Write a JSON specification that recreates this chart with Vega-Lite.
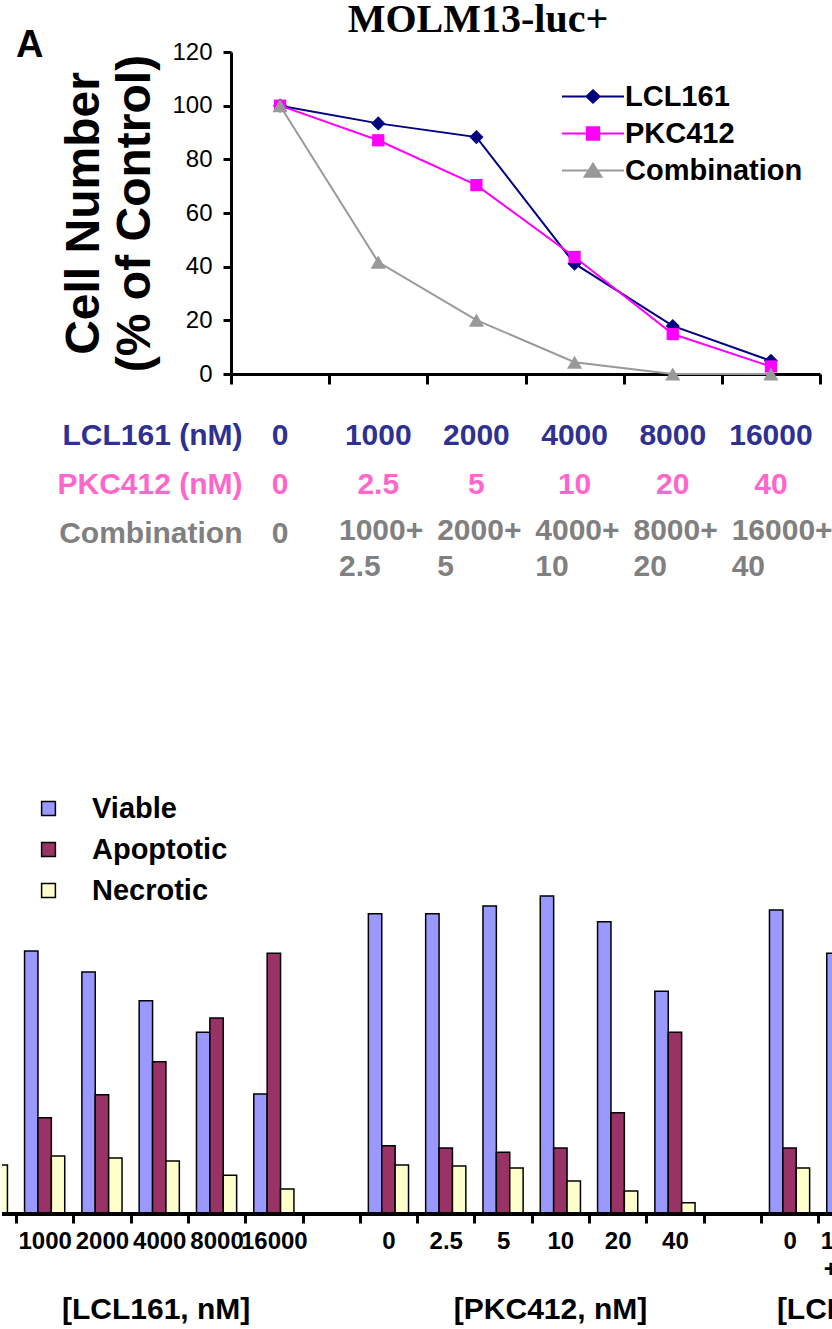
{
  "$schema": "https://vega.github.io/schema/vega-lite/v6.json",
  "padding": 0,
  "background": "white",
  "bounds": "flush",
  "spacing": 37,
  "title": {"text": "MOLM13-luc+", "font": "Liberation Serif", "fontSize": 40, "fontWeight": "bold", "anchor": "middle", "frame": "group", "dx": 60, "offset": -13, "color": "black"},
  "resolve": {
    "scale": {"color": "independent", "shape": "independent", "stroke": "independent"},
    "legend": {"color": "independent", "shape": "independent", "stroke": "independent"}
  },
  "config": {
    "view": {"stroke": null},
    "font": "Liberation Sans",
    "axis": {"domainColor": "black", "tickColor": "black", "labelColor": "black", "titleColor": "black", "grid": false, "labelFont": "Liberation Sans", "titleFont": "Liberation Sans"}
  },
  "vconcat": [
    {
      "width": 832,
      "height": 322,
      "title": {"text": "A", "anchor": "start", "frame": "group", "font": "Liberation Sans", "fontSize": 38, "fontWeight": "bold", "dx": 14, "offset": -25, "color": "black"},
      "data": {"values": [
        {"level": "0", "series": "LCL161", "value": 100},
        {"level": "1000", "series": "LCL161", "value": 93.4},
        {"level": "2000", "series": "LCL161", "value": 88.3},
        {"level": "4000", "series": "LCL161", "value": 41.1},
        {"level": "8000", "series": "LCL161", "value": 17.9},
        {"level": "16000", "series": "LCL161", "value": 4.9},
        {"level": "0", "series": "PKC412", "value": 100},
        {"level": "1000", "series": "PKC412", "value": 87.1},
        {"level": "2000", "series": "PKC412", "value": 70.4},
        {"level": "4000", "series": "PKC412", "value": 43.6},
        {"level": "8000", "series": "PKC412", "value": 14.9},
        {"level": "16000", "series": "PKC412", "value": 2.8},
        {"level": "0", "series": "Combination", "value": 100},
        {"level": "1000", "series": "Combination", "value": 41.7},
        {"level": "2000", "series": "Combination", "value": 20.1},
        {"level": "4000", "series": "Combination", "value": 4.4},
        {"level": "8000", "series": "Combination", "value": 0},
        {"level": "16000", "series": "Combination", "value": 0}
      ]},
      "encoding": {
        "x": {"field": "level", "type": "nominal", "sort": null,
          "scale": {"type": "band", "domain": ["0", "1000", "2000", "4000", "8000", "16000"], "range": [229, 818], "paddingInner": 0, "paddingOuter": 0},
          "axis": {"title": null, "labels": false, "tickBand": "extent", "tickSize": 10, "tickWidth": 3, "domainWidth": 3}},
        "y": {"field": "value", "type": "quantitative",
          "scale": {"domain": [0, 120]},
          "axis": {"values": [0, 20, 40, 60, 80, 100, 120], "offset": -229, "tickSize": 8, "tickWidth": 3, "domainWidth": 3, "labelFontSize": 24, "labelPadding": 11,
            "title": ["Cell Number", "(% of Control)"], "titleFontSize": 48, "titleFontWeight": "bold", "titleLineHeight": 51, "titlePadding": 12}}
      },
      "layer": [
        {"mark": {"type": "point", "filled": true, "size": 0, "opacity": 1, "strokeWidth": 2},
         "encoding": {
           "color": {"field": "series", "type": "nominal",
             "scale": {"domain": ["LCL161", "PKC412", "Combination"], "range": ["#000080", "#FF00FF", "#999999"]},
             "legend": {"title": null, "orient": "none", "legendX": 559, "legendY": 26, "symbolSize": 3844, "symbolStrokeWidth": 2,
               "labelFont": "Liberation Sans", "labelFontSize": 29, "labelFontWeight": "bold", "labelColor": "black", "labelOffset": 0, "labelLimit": 300, "clipHeight": 37, "rowPadding": 0, "padding": 0, "symbolOpacity": 1}},
           "stroke": {"field": "series", "type": "nominal",
             "scale": {"domain": ["LCL161", "PKC412", "Combination"], "range": ["#000080", "#FF00FF", "#999999"]},
             "legend": {"title": null, "orient": "none", "legendX": 559, "legendY": 26, "symbolSize": 3844, "symbolStrokeWidth": 2,
               "labelFont": "Liberation Sans", "labelFontSize": 29, "labelFontWeight": "bold", "labelColor": "black", "labelOffset": 0, "labelLimit": 300, "clipHeight": 37, "rowPadding": 0, "padding": 0, "symbolOpacity": 1}},
           "shape": {"field": "series", "type": "nominal",
             "scale": {"domain": ["LCL161", "PKC412", "Combination"], "range": ["M-1,0H1M0,-0.2L0.21,0L0,0.2L-0.21,0Z", "M-1,0H1M-0.2,-0.2H0.2V0.2H-0.2Z", "M-1,0H1M0,-0.22L0.27,0.2H-0.27Z"]},
             "legend": {"title": null, "orient": "none", "legendX": 559, "legendY": 26, "symbolSize": 3844, "symbolStrokeWidth": 2,
               "labelFont": "Liberation Sans", "labelFontSize": 29, "labelFontWeight": "bold", "labelColor": "black", "labelOffset": 0, "labelLimit": 300, "clipHeight": 37, "rowPadding": 0, "padding": 0, "symbolOpacity": 1}}
         }},
        {"mark": {"type": "line", "strokeWidth": 2},
         "encoding": {"color": {"field": "series", "type": "nominal"}}},
        {"transform": [{"filter": "datum.series === 'LCL161'"}],
         "mark": {"type": "point", "shape": "diamond", "filled": true, "size": 200, "opacity": 1},
         "encoding": {"color": {"field": "series", "type": "nominal"}}},
        {"transform": [{"filter": "datum.series === 'PKC412'"}],
         "mark": {"type": "point", "shape": "square", "filled": true, "size": 150, "opacity": 1},
         "encoding": {"color": {"field": "series", "type": "nominal"}}},
        {"transform": [{"filter": "datum.series === 'Combination'"}],
         "mark": {"type": "point", "shape": "triangle-up", "filled": true, "size": 230, "opacity": 1},
         "encoding": {"color": {"field": "series", "type": "nominal"}}}
      ]
    },
    {
      "width": 832,
      "height": 245,
      "data": {"values": [
        {"level": "0", "row": "LCL161 (nM)", "label": "0"},
        {"level": "1000", "row": "LCL161 (nM)", "label": "1000"},
        {"level": "2000", "row": "LCL161 (nM)", "label": "2000"},
        {"level": "4000", "row": "LCL161 (nM)", "label": "4000"},
        {"level": "8000", "row": "LCL161 (nM)", "label": "8000"},
        {"level": "16000", "row": "LCL161 (nM)", "label": "16000"},
        {"level": "0", "row": "PKC412 (nM)", "label": "0"},
        {"level": "1000", "row": "PKC412 (nM)", "label": "2.5"},
        {"level": "2000", "row": "PKC412 (nM)", "label": "5"},
        {"level": "4000", "row": "PKC412 (nM)", "label": "10"},
        {"level": "8000", "row": "PKC412 (nM)", "label": "20"},
        {"level": "16000", "row": "PKC412 (nM)", "label": "40"},
        {"level": "0", "row": "Combination", "label": "0"},
        {"level": "1000", "row": "Combination", "label": "1000+\n2.5"},
        {"level": "2000", "row": "Combination", "label": "2000+\n5"},
        {"level": "4000", "row": "Combination", "label": "4000+\n10"},
        {"level": "8000", "row": "Combination", "label": "8000+\n20"},
        {"level": "16000", "row": "Combination", "label": "16000+\n40"}
      ]},
      "encoding": {
        "x": {"field": "level", "type": "nominal",
          "scale": {"type": "band", "domain": ["0", "1000", "2000", "4000", "8000", "16000"], "range": [229, 818], "paddingInner": 0, "paddingOuter": 0},
          "axis": null},
        "y": {"field": "row", "type": "nominal",
          "scale": {"type": "band", "domain": ["LCL161 (nM)", "PKC412 (nM)", "Combination"], "paddingInner": 0, "paddingOuter": 1, "align": 0},
          "axis": {"title": null, "domain": false, "ticks": false, "tickSize": 0, "labelPadding": 0, "offset": -240, "labelLimit": 400, "labelFont": "Liberation Sans", "labelFontWeight": "bold", "labelFontSize": 30,
            "labelColor": {"expr": "datum.value == 'LCL161 (nM)' ? '#2E3192' : datum.value == 'PKC412 (nM)' ? '#FF66CC' : '#808080'"}}},
        "color": {"field": "row", "type": "nominal", "scale": {"domain": ["LCL161 (nM)", "PKC412 (nM)", "Combination"], "range": ["#2E3192", "#FF66CC", "#808080"]}, "legend": null},
        "text": {"field": "label"}
      },
      "layer": [
        {"transform": [{"filter": "datum.row != 'Combination' || datum.level == '0'"}],
         "mark": {"type": "text", "font": "Liberation Sans", "fontWeight": "bold", "fontSize": 30, "align": "center", "baseline": "middle"}},
        {"transform": [{"filter": "datum.row == 'Combination' && datum.level != '0'"}],
         "mark": {"type": "text", "font": "Liberation Sans", "fontWeight": "bold", "fontSize": 30, "align": "left", "baseline": "top", "lineBreak": "\n", "lineHeight": 36},
         "encoding": {
           "x": {"field": "level", "type": "nominal", "bandPosition": 0.1},
           "y": {"field": "row", "type": "nominal", "bandPosition": 0.14}
         }}
      ]
    },
    {
      "width": 832,
      "height": 521,
      "data": {"values": [
        {"treatment": "LCL161 0", "status": "Viable", "percent": 72.0},
        {"treatment": "LCL161 0", "status": "Apoptotic", "percent": 16.3},
        {"treatment": "LCL161 0", "status": "Necrotic", "percent": 11.7},
        {"treatment": "LCL161 1000", "status": "Viable", "percent": 62.9},
        {"treatment": "LCL161 1000", "status": "Apoptotic", "percent": 23.0},
        {"treatment": "LCL161 1000", "status": "Necrotic", "percent": 13.9},
        {"treatment": "LCL161 2000", "status": "Viable", "percent": 57.9},
        {"treatment": "LCL161 2000", "status": "Apoptotic", "percent": 28.5},
        {"treatment": "LCL161 2000", "status": "Necrotic", "percent": 13.4},
        {"treatment": "LCL161 4000", "status": "Viable", "percent": 51.0},
        {"treatment": "LCL161 4000", "status": "Apoptotic", "percent": 36.4},
        {"treatment": "LCL161 4000", "status": "Necrotic", "percent": 12.7},
        {"treatment": "LCL161 8000", "status": "Viable", "percent": 43.5},
        {"treatment": "LCL161 8000", "status": "Apoptotic", "percent": 46.9},
        {"treatment": "LCL161 8000", "status": "Necrotic", "percent": 9.3},
        {"treatment": "LCL161 16000", "status": "Viable", "percent": 28.7},
        {"treatment": "LCL161 16000", "status": "Apoptotic", "percent": 62.4},
        {"treatment": "LCL161 16000", "status": "Necrotic", "percent": 6.0},
        {"treatment": "PKC412 0", "status": "Viable", "percent": 71.8},
        {"treatment": "PKC412 0", "status": "Apoptotic", "percent": 16.3},
        {"treatment": "PKC412 0", "status": "Necrotic", "percent": 11.7},
        {"treatment": "PKC412 2.5", "status": "Viable", "percent": 71.8},
        {"treatment": "PKC412 2.5", "status": "Apoptotic", "percent": 15.8},
        {"treatment": "PKC412 2.5", "status": "Necrotic", "percent": 11.5},
        {"treatment": "PKC412 5", "status": "Viable", "percent": 73.7},
        {"treatment": "PKC412 5", "status": "Apoptotic", "percent": 14.8},
        {"treatment": "PKC412 5", "status": "Necrotic", "percent": 11.0},
        {"treatment": "PKC412 10", "status": "Viable", "percent": 76.1},
        {"treatment": "PKC412 10", "status": "Apoptotic", "percent": 15.8},
        {"treatment": "PKC412 10", "status": "Necrotic", "percent": 7.9},
        {"treatment": "PKC412 20", "status": "Viable", "percent": 69.9},
        {"treatment": "PKC412 20", "status": "Apoptotic", "percent": 24.2},
        {"treatment": "PKC412 20", "status": "Necrotic", "percent": 5.5},
        {"treatment": "PKC412 40", "status": "Viable", "percent": 53.3},
        {"treatment": "PKC412 40", "status": "Apoptotic", "percent": 43.5},
        {"treatment": "PKC412 40", "status": "Necrotic", "percent": 2.7},
        {"treatment": "Combination 0", "status": "Viable", "percent": 72.7},
        {"treatment": "Combination 0", "status": "Apoptotic", "percent": 15.8},
        {"treatment": "Combination 0", "status": "Necrotic", "percent": 11.0},
        {"treatment": "Combination 1000+2.5", "status": "Viable", "percent": 62.4},
        {"treatment": "Combination 1000+2.5", "status": "Apoptotic", "percent": 25.0},
        {"treatment": "Combination 1000+2.5", "status": "Necrotic", "percent": 12.3}
      ]},
      "layer": [
        {
          "mark": {"type": "bar", "stroke": "black", "strokeWidth": 1.5, "clip": true},
          "encoding": {
            "x": {"field": "treatment", "type": "nominal",
              "scale": {"type": "band", "domain": ["LCL161 0", "LCL161 1000", "LCL161 2000", "LCL161 4000", "LCL161 8000", "LCL161 16000", "gap1", "PKC412 0", "PKC412 2.5", "PKC412 5", "PKC412 10", "PKC412 20", "PKC412 40", "gap2", "Combination 0", "Combination 1000+2.5"], "range": [-43.3, 873.5], "paddingInner": 0, "paddingOuter": 0},
              "axis": {"title": null, "domain": false, "tickBand": "extent",
                "values": ["LCL161 1000", "LCL161 2000", "LCL161 4000", "LCL161 8000", "LCL161 16000", "gap1", "PKC412 0", "PKC412 2.5", "PKC412 5", "PKC412 10", "PKC412 20", "PKC412 40", "gap2", "Combination 0", "Combination 1000+2.5"],
                "tickSize": 9, "tickWidth": 3, "labelAngle": 0, "labelOverlap": false, "labelPadding": 6,
                "labelFont": "Liberation Sans", "labelFontWeight": "bold", "labelFontSize": 24, "labelLineHeight": 28,
                "labelExpr": "(!isValid(datum.value) || datum.value == 'gap1' || datum.value == 'gap2') ? '' : split(replace(replace(replace(replace(datum.value, 'LCL161 ', ''), 'PKC412 ', ''), 'Combination ', ''), '+', '|+'), '|')"}},
            "xOffset": {"field": "status", "type": "nominal", "scale": {"domain": ["Viable", "Apoptotic", "Necrotic"], "paddingInner": 0, "paddingOuter": 0.64}},
            "y": {"field": "percent", "type": "quantitative", "scale": {"domain": [0, 124.64], "nice": false}, "axis": null},
            "color": {"field": "status", "type": "nominal",
              "scale": {"domain": ["Viable", "Apoptotic", "Necrotic"], "range": ["#9999FF", "#993366", "#FFFFCC"]},
              "legend": {"title": null, "orient": "none", "legendX": 32, "legendY": 101, "symbolType": "square", "symbolSize": 190, "symbolStrokeColor": "black", "symbolStrokeWidth": 1.5, "symbolOpacity": 1,
                "labelFont": "Liberation Sans", "labelFontSize": 29, "labelFontWeight": "bold", "labelColor": "black", "labelOffset": 29, "labelLimit": 300, "rowPadding": 11, "padding": 0}}
          }
        },
        {"mark": {"type": "rule", "strokeWidth": 3, "color": "black"}, "encoding": {"y": {"datum": 0}}}
      ]
    },
    {
      "width": 832,
      "height": 118,
      "data": {"values": [
        {"group": "LCL161", "text": "[LCL161, nM]"},
        {"group": "PKC412", "text": "[PKC412, nM]"},
        {"group": "Combination", "text": "[LCL161 + PKC412, nM]"}
      ]},
      "mark": {"type": "text", "font": "Liberation Sans", "fontWeight": "bold", "fontSize": 30, "align": "center", "baseline": "middle", "color": "black"},
      "encoding": {
        "x": {"field": "group", "type": "nominal", "scale": {"type": "band", "domain": ["LCL161", "PKC412", "Combination"], "range": [-43, 1140], "paddingInner": 0, "paddingOuter": 0}, "axis": null},
        "text": {"field": "text"}
      }
    }
  ]
}
